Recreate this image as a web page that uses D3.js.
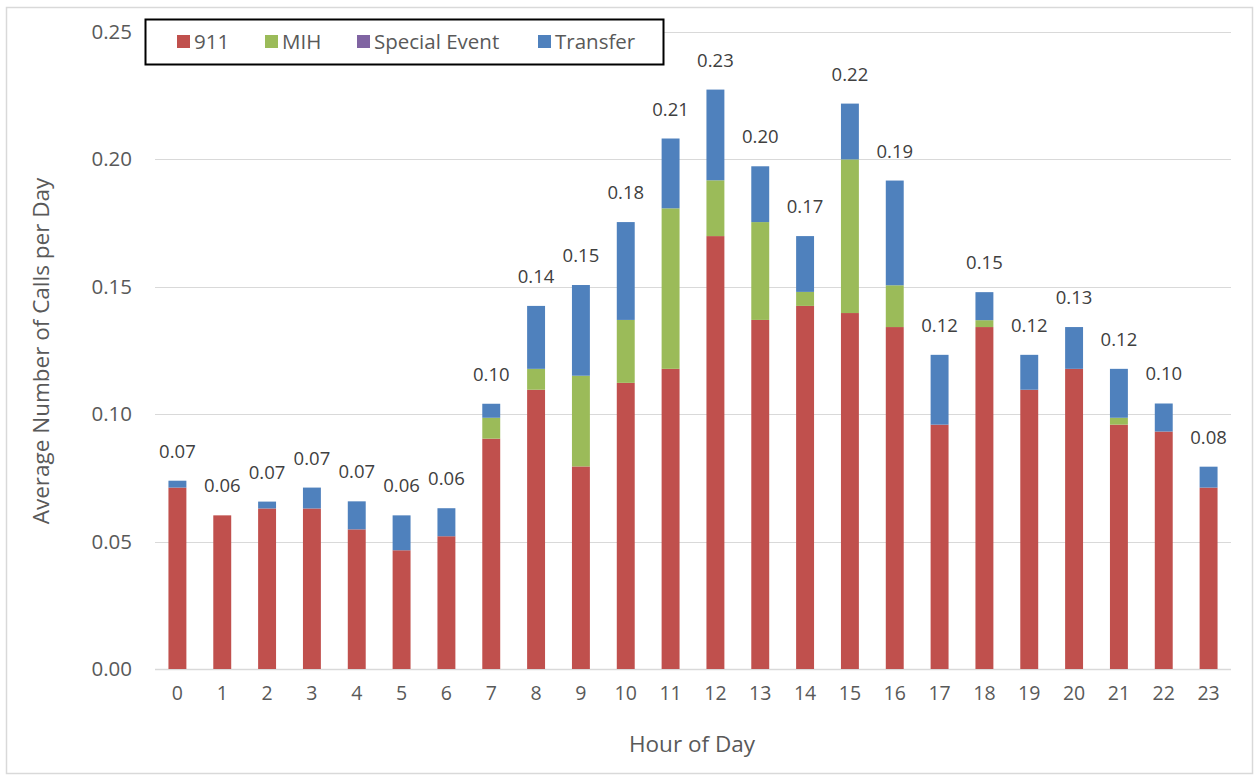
<!DOCTYPE html>
<html>
<head>
<meta charset="utf-8">
<script src="https://cdn.jsdelivr.net/npm/d3@7"></script>
<style>
  html, body { margin: 0; padding: 0; background: #ffffff; }
  svg { display: block; font-family: "Open Sans", "Noto Sans", sans-serif; }
</style>
</head>
<body>
<svg id="chart" width="1258" height="776"></svg>
<script>
// Hours of the day (x categories)
const hours = ["0","1","2","3","4","5","6","7","8","9","10","11","12","13","14","15","16","17","18","19","20","21","22","23"];

// Average number of calls per day, by call type
const calls911 = [0.0712,0.0603,0.0630,0.0630,0.0548,0.0466,0.0521,0.0904,0.1096,0.0795,0.1123,0.1178,0.1699,0.1370,0.1425,0.1397,0.1342,0.0959,0.1342,0.1096,0.1178,0.0959,0.0932,0.0712];
const callsMIH = [0.0000,0.0000,0.0000,0.0000,0.0000,0.0000,0.0000,0.0082,0.0082,0.0356,0.0247,0.0630,0.0219,0.0384,0.0055,0.0603,0.0164,0.0000,0.0027,0.0000,0.0000,0.0027,0.0000,0.0000];
const callsSpecialEvent = [0,0,0,0,0,0,0,0,0,0,0,0,0,0,0,0,0,0,0,0,0,0,0,0];
const callsTransfer = [0.0027,0.0000,0.0027,0.0082,0.0110,0.0137,0.0110,0.0055,0.0247,0.0356,0.0384,0.0274,0.0356,0.0219,0.0219,0.0219,0.0411,0.0274,0.0110,0.0137,0.0164,0.0192,0.0110,0.0082];

const yTicks = [0, 0.05, 0.10, 0.15, 0.20, 0.25];

const seriesNames = ["911", "MIH", "Special Event", "Transfer"];
const seriesColors = ["#c0504d", "#9bbb59", "#8064a2", "#4f81bd"];

// Build a row table for d3.stack
const rows = hours.map((h, i) => ({
  hour: h,
  "911": calls911[i],
  "MIH": callsMIH[i],
  "Special Event": callsSpecialEvent[i],
  "Transfer": callsTransfer[i]
}));

const svg = d3.select("#chart");
const plot = { left: 155, right: 1231, top: 32, bottom: 669 };

// Outer chart frame
svg.append("rect")
  .attr("x", 6.5).attr("y", 7.5)
  .attr("width", 1246).attr("height", 766)
  .attr("fill", "#ffffff")
  .attr("stroke", "#d9d9d9").attr("stroke-width", 1.5);

const x = d3.scaleBand()
  .domain(hours)
  .range([plot.left, plot.right])
  .paddingInner(0.6).paddingOuter(0.3);

const y = d3.scaleLinear()
  .domain([0, 0.25])
  .range([plot.bottom, plot.top]);

// Horizontal gridlines
svg.append("g")
  .selectAll("line")
  .data(yTicks)
  .join("line")
  .attr("x1", plot.left).attr("x2", plot.right)
  .attr("y1", d => Math.round(y(d)) + 0.5).attr("y2", d => Math.round(y(d)) + 0.5)
  .attr("stroke", "#d9d9d9").attr("stroke-width", d => d === 0 ? 1.5 : 1.2);

// Y axis tick labels
const yAxis = d3.axisLeft(y).tickValues(yTicks).tickFormat(d3.format(".2f")).tickSize(0).tickPadding(0);
const gy = svg.append("g").attr("transform", `translate(${plot.left - 23},0)`).call(yAxis);
gy.select(".domain").remove();
gy.selectAll("text")
  .attr("fill", "#595959")
  .style("font-size", "20.5px")
  .style("font-family", "'Open Sans', sans-serif");

// X axis tick labels
const xAxis = d3.axisBottom(x).tickSize(0).tickPadding(0);
const gx = svg.append("g").attr("transform", `translate(0,${plot.bottom + 17})`).call(xAxis);
gx.select(".domain").remove();
gx.selectAll("text")
  .attr("fill", "#595959")
  .style("font-size", "19.5px")
  .style("font-family", "'Open Sans', sans-serif");

// Stacked bars
const stack = d3.stack().keys(seriesNames);
const stacked = stack(rows);

svg.append("g")
  .selectAll("g")
  .data(stacked)
  .join("g")
  .attr("fill", (d, i) => seriesColors[i])
  .selectAll("rect")
  .data(d => d)
  .join("rect")
  .attr("x", d => x(d.data.hour))
  .attr("width", x.bandwidth())
  .attr("y", d => y(d[1]))
  .attr("height", d => Math.max(0, y(d[0]) - y(d[1])));

// Total labels above each bar
const totals = rows.map(r => seriesNames.reduce((s, k) => s + r[k], 0));
svg.append("g")
  .selectAll("text")
  .data(rows)
  .join("text")
  .attr("x", (d, i) => x(d.hour) + x.bandwidth() / 2)
  .attr("y", (d, i) => y(totals[i]) - 23)
  .attr("text-anchor", "middle")
  .attr("fill", "#404040")
  .style("font-size", "18.5px")
  .text((d, i) => d3.format(".2f")(totals[i]));

// Axis titles
svg.append("text")
  .attr("x", 692)
  .attr("y", 752)
  .attr("text-anchor", "middle")
  .attr("fill", "#595959")
  .style("font-size", "22.5px")
  .text("Hour of Day");

svg.append("text")
  .attr("transform", `translate(49,351) rotate(-90)`)
  .attr("text-anchor", "middle")
  .attr("fill", "#595959")
  .style("font-size", "22.5px")
  .text("Average Number of Calls per Day");

// Legend
const legend = svg.append("g");
legend.append("rect")
  .attr("x", 145.5).attr("y", 19.5)
  .attr("width", 518).attr("height", 45)
  .attr("fill", "#ffffff")
  .attr("stroke", "#000000").attr("stroke-width", 2);

const legendX = [177, 265, 357, 538];
seriesNames.forEach((name, i) => {
  legend.append("rect")
    .attr("x", legendX[i]).attr("y", 35)
    .attr("width", 13).attr("height", 13)
    .attr("fill", seriesColors[i]);
  legend.append("text")
    .attr("x", legendX[i] + 17).attr("y", 49)
    .attr("fill", "#595959")
    .style("font-size", "20.5px")
    .text(name);
});
</script>
</body>
</html>
